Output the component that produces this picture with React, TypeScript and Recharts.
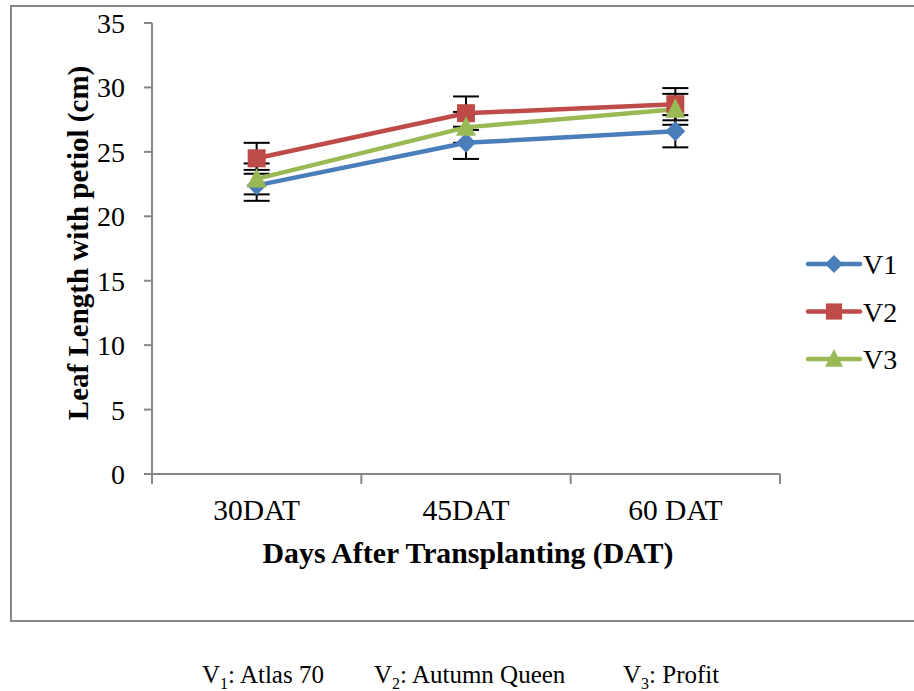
import React from 'react';
import { LineChart, Line, XAxis, YAxis, ErrorBar, Legend } from 'recharts';

const categories = ['30DAT', '45DAT', '60 DAT'];
const v1 = [22.4, 25.7, 26.6];
const v2 = [24.5, 28.0, 28.7];
const v3 = [22.9, 26.9, 28.3];
const v1Err = [1.2, 1.25, 1.25];
const v2Err = [1.2, 1.3, 1.25];
const v3Err = [1.2, 1.2, 1.2];
const yTicks = [0, 5, 10, 15, 20, 25, 30, 35];
const seriesNames = ['V1', 'V2', 'V3'];
const seriesColors = ['#4A7EBB', '#BE4B48', '#98B954'];
const markerTypes = ['diamond', 'square', 'triangle'];
const notes = [
  { sym: 'V', sub: '1', text: ': Atlas 70' },
  { sym: 'V', sub: '2', text: ': Autumn Queen' },
  { sym: 'V', sub: '3', text: ': Profit' },
];

const data = categories.map((c, i) => ({
  pos: i + 0.5,
  cat: c,
  V1: v1[i],
  V1e: v1Err[i],
  V2: v2[i],
  V2e: v2Err[i],
  V3: v3[i],
  V3e: v3Err[i],
}));

const xTicks = [0, 0.5, 1, 1.5, 2, 2.5, 3];
const FONT = '"Liberation Serif", "Times New Roman", serif';
const AXIS = '#878787';

function marker(type: string, cx: number, cy: number, color: string, s = 1) {
  if (type === 'diamond') {
    const h = 10 * s;
    return <polygon points={`${cx},${cy - h} ${cx + h},${cy} ${cx},${cy + h} ${cx - h},${cy}`} fill={color} />;
  }
  if (type === 'square') {
    const h = 9 * s;
    return <rect x={cx - h} y={cy - h} width={2 * h} height={2 * h} fill={color} />;
  }
  const w = 10 * s;
  return (
    <polygon
      points={`${cx},${cy - 11 * s} ${cx + w},${cy + 8.5 * s} ${cx - w},${cy + 8.5 * s}`}
      fill={color}
    />
  );
}

const makeDot = (type: string, color: string) => (props: any) => {
  const { cx, cy, index } = props;
  if (cx == null || cy == null) return <g key={`d-${index}`} />;
  return <g key={`d-${type}-${index}`}>{marker(type, cx, cy, color)}</g>;
};

const XTick = (props: any) => {
  const { x, y, payload } = props;
  const v = payload.value;
  if (Number.isInteger(v)) {
    return <line x1={x} x2={x} y1={y - 10} y2={y} stroke={AXIS} strokeWidth={2} />;
  }
  const idx = Math.floor(v);
  return (
    <text x={x} y={y + 36} textAnchor="middle" fontFamily={FONT} fontSize={29.5} fill="#000">
      {categories[idx]}
    </text>
  );
};

const LegendContent = () => (
  <svg width={114} height={150}>
    {seriesNames.map((name, si) => {
      const cy = 19 + si * 47.5;
      const color = seriesColors[si];
      return (
        <g key={name}>
          <line x1={8} x2={60} y1={cy} y2={cy} stroke={color} strokeWidth={4.5} strokeLinecap="round" />
          {marker(markerTypes[si], 34, cy, color, 0.9)}
          <text x={63} y={cy + 10} fontFamily={FONT} fontSize={28} fill="#000">
            {name}
          </text>
        </g>
      );
    })}
  </svg>
);

export default function App() {
  return (
    <div style={{ position: 'absolute', left: 0, top: 0, width: 914, height: 691, background: '#fff', overflow: 'hidden' }}>
      <div
        style={{
          position: 'absolute',
          left: 10,
          top: 5,
          width: 940,
          height: 613,
          border: `2px solid ${AXIS}`,
          boxSizing: 'content-box',
        }}
      />
      <div style={{ position: 'absolute', left: 0, top: 0 }}>
        <LineChart width={914} height={691} data={data} margin={{ top: 23, right: 134, bottom: 187, left: 92 }}>
          <XAxis
            dataKey="pos"
            type="number"
            domain={[0, 3]}
            ticks={xTicks}
            interval={0}
            tickLine={false}
            tickSize={10}
            tickMargin={0}
            height={30}
            axisLine={{ stroke: AXIS, strokeWidth: 2 }}
            tick={<XTick />}
            label={{
              content: () => (
                <text x={468} y={563} textAnchor="middle" fontFamily={FONT} fontSize={29.8} fontWeight="bold" fill="#000">
                  Days After Transplanting (DAT)
                </text>
              ),
            }}
          />
          <YAxis
            type="number"
            domain={[0, 35]}
            ticks={yTicks}
            interval={0}
            width={60}
            axisLine={{ stroke: AXIS, strokeWidth: 2 }}
            tickLine={{ stroke: AXIS, strokeWidth: 2 }}
            tickSize={8}
            tickMargin={19}
            tick={{ fontFamily: FONT, fontSize: 28, fill: '#000' }}
            label={{
              content: () => (
                <text
                  x={88}
                  y={243}
                  transform="rotate(-90 88 243)"
                  textAnchor="middle"
                  fontFamily={FONT}
                  fontSize={29}
                  fontWeight="bold"
                  fill="#000"
                >
                  Leaf Length with petiol (cm)
                </text>
              ),
            }}
          />
          <Legend
            layout="horizontal"
            align="center"
            verticalAlign="middle"
            content={<LegendContent />}
            wrapperStyle={{ left: 800, top: 245, width: 114, height: 150 }}
          />
          {seriesNames.map((name) => (
            <Line
              key={`${name}-err`}
              type="linear"
              dataKey={name}
              stroke="none"
              dot={false}
              activeDot={false}
              legendType="none"
              isAnimationActive={false}
              {...({ zIndex: 340 } as any)}
            >
              <ErrorBar
                dataKey={`${name}e`}
                direction="y"
                width={13}
                stroke="#000"
                strokeWidth={2}
                {...({ zIndex: 350 } as any)}
              />
            </Line>
          ))}
          {seriesNames.map((name, i) => (
            <Line
              key={name}
              type="linear"
              dataKey={name}
              name={name}
              stroke={seriesColors[i]}
              strokeWidth={4.5}
              dot={makeDot(markerTypes[i], seriesColors[i])}
              activeDot={false}
              isAnimationActive={false}
              {...({ zIndex: 450 + i } as any)}
            />
          ))}
        </LineChart>
      </div>
      <div style={{ position: 'absolute', top: 661, left: 0, width: 914, height: 30, fontFamily: FONT, fontSize: 25, color: '#000' }}>
        {notes.map((n, i) => (
          <span key={i} style={{ position: 'absolute', left: [202, 374, 623][i], whiteSpace: 'nowrap' }}>
            {n.sym}
            <sub style={{ fontSize: 16 }}>{n.sub}</sub>
            {n.text}
          </span>
        ))}
      </div>
    </div>
  );
}
